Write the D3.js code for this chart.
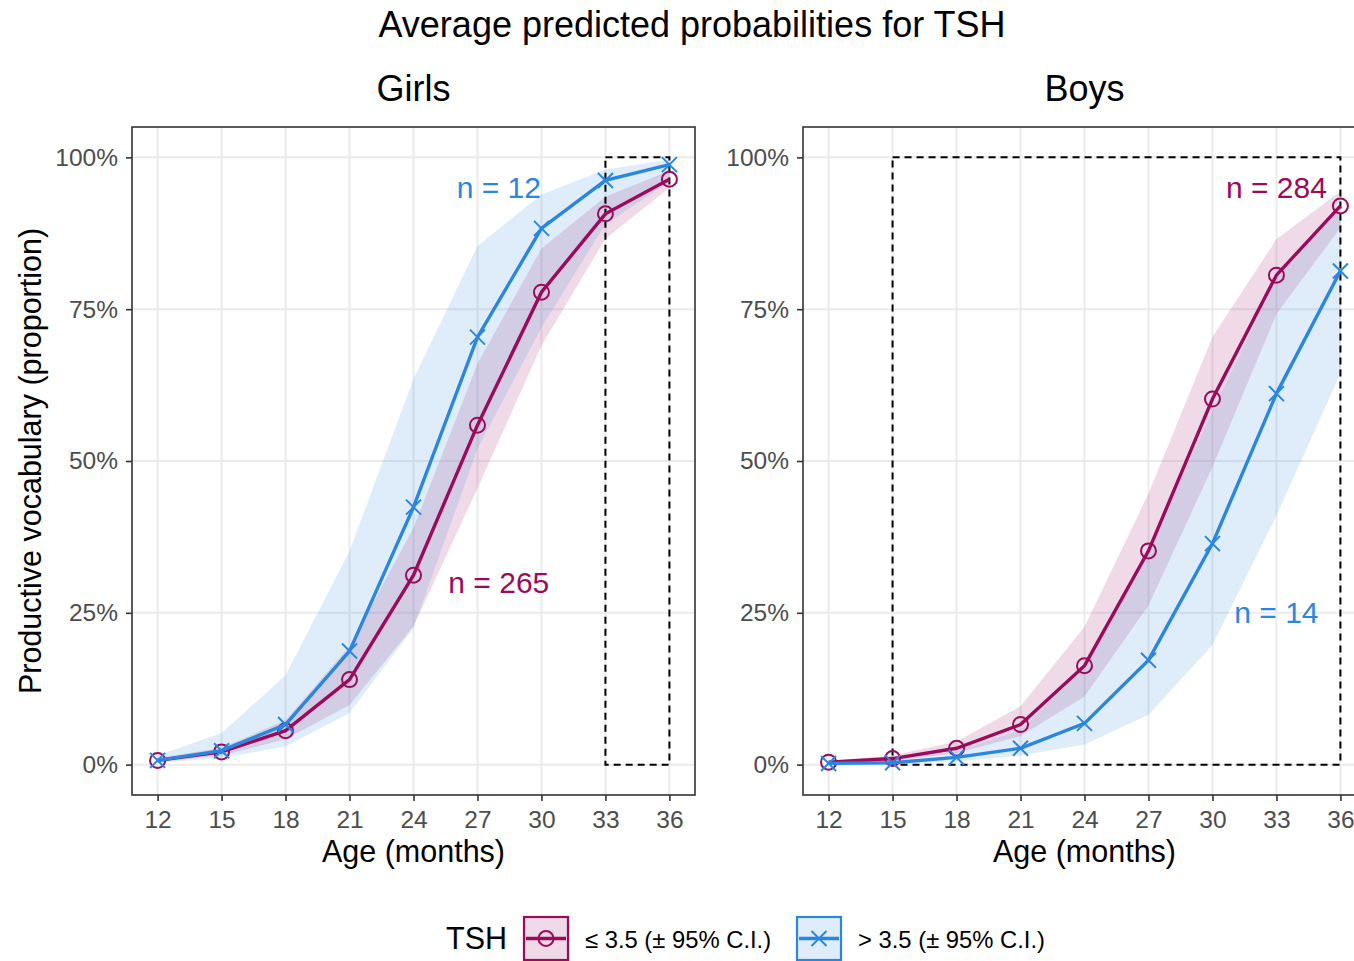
<!DOCTYPE html>
<html>
<head>
<meta charset="utf-8">
<script src="https://cdn.jsdelivr.net/npm/d3@7"></script>
<style>
  body { margin: 0; background: #fff; }
  text { font-family: "Liberation Sans", Arial, sans-serif; }
</style>
</head>
<body>
<svg id="chart" width="1354" height="961"></svg>
<script>
// Données
const ages = [12, 15, 18, 21, 24, 27, 30, 33, 36];
const yTicks = [0, 0.25, 0.5, 0.75, 1];

const girlsLowFit = [0.007, 0.021, 0.056, 0.140, 0.312, 0.559, 0.778, 0.907, 0.964];
const girlsLowLo  = [0.004, 0.015, 0.042, 0.098, 0.228, 0.455, 0.690, 0.866, 0.950];
const girlsLowHi  = [0.011, 0.028, 0.073, 0.195, 0.390, 0.660, 0.850, 0.935, 0.978];
const girlsHighFit = [0.007, 0.023, 0.066, 0.187, 0.424, 0.704, 0.883, 0.962, 0.988];
const girlsHighLo  = [0.003, 0.011, 0.030, 0.085, 0.225, 0.520, 0.720, 0.890, 0.960];
const girlsHighHi  = [0.015, 0.052, 0.147, 0.352, 0.635, 0.854, 0.939, 0.980, 0.996];

const boysLowFit = [0.004, 0.010, 0.027, 0.066, 0.163, 0.352, 0.602, 0.806, 0.920];
const boysLowLo  = [0.002, 0.006, 0.019, 0.047, 0.112, 0.262, 0.490, 0.742, 0.884];
const boysLowHi  = [0.006, 0.015, 0.038, 0.096, 0.227, 0.446, 0.704, 0.865, 0.944];
const boysHighFit = [0.002, 0.003, 0.012, 0.027, 0.068, 0.172, 0.364, 0.611, 0.813];
const boysHighLo  = [0.001, 0.001, 0.005, 0.015, 0.033, 0.082, 0.197, 0.410, 0.644];
const boysHighHi  = [0.004, 0.008, 0.022, 0.057, 0.160, 0.353, 0.583, 0.800, 0.915];

const pink = "#9c0a5b";
const blue = "#2b86e0";

const panels = [
  { title: "Girls", left: 132,
    series: [
      { fit: girlsLowFit, lo: girlsLowLo, hi: girlsLowHi, color: pink, shape: "circle" },
      { fit: girlsHighFit, lo: girlsHighLo, hi: girlsHighHi, color: blue, shape: "cross" }
    ],
    box: [33, 36],
    labels: [
      { text: "n = 12", x: 28, y: 0.95, color: blue },
      { text: "n = 265", x: 28, y: 0.30, color: pink }
    ] },
  { title: "Boys", left: 803,
    series: [
      { fit: boysLowFit, lo: boysLowLo, hi: boysLowHi, color: pink, shape: "circle" },
      { fit: boysHighFit, lo: boysHighLo, hi: boysHighHi, color: blue, shape: "cross" }
    ],
    box: [15, 36],
    labels: [
      { text: "n = 284", x: 33, y: 0.95, color: pink },
      { text: "n = 14", x: 33, y: 0.25, color: blue }
    ] }
];

const svg = d3.select("#chart");
const panelTop = 127, panelW = 563, panelH = 668;

const x = d3.scaleLinear().domain([10.8, 37.2]).range([0, panelW]);
const y = d3.scaleLinear().domain([-0.05, 1.05]).range([panelH, 0]);

svg.append("text")
  .attr("x", 692).attr("y", 24)
  .attr("text-anchor", "middle").attr("dominant-baseline", "central")
  .style("font-size", "36px")
  .text("Average predicted probabilities for TSH");

function marker(g, shape, color, cx, cy) {
  if (shape === "circle") {
    g.append("circle").attr("cx", cx).attr("cy", cy).attr("r", 7.5)
      .attr("fill", "none").attr("stroke", color).attr("stroke-width", 2);
  } else {
    const s = 7.5;
    g.append("path")
      .attr("d", `M${cx - s},${cy - s}L${cx + s},${cy + s}M${cx - s},${cy + s}L${cx + s},${cy - s}`)
      .attr("stroke", color).attr("stroke-width", 2);
  }
}

panels.forEach(p => {
  svg.append("text")
    .attr("x", p.left + panelW / 2).attr("y", 88)
    .attr("text-anchor", "middle").attr("dominant-baseline", "central")
    .style("font-size", "36px")
    .text(p.title);

  const g = svg.append("g").attr("transform", `translate(${p.left},${panelTop})`);

  // grille
  g.selectAll("line.vgrid").data(ages).enter().append("line")
    .attr("x1", d => x(d)).attr("x2", d => x(d))
    .attr("y1", 0).attr("y2", panelH)
    .attr("stroke", "#ebebeb").attr("stroke-width", 2);
  g.selectAll("line.hgrid").data(yTicks).enter().append("line")
    .attr("x1", 0).attr("x2", panelW)
    .attr("y1", d => y(d)).attr("y2", d => y(d))
    .attr("stroke", "#ebebeb").attr("stroke-width", 2);

  // bandes de confiance
  p.series.forEach(s => {
    const area = d3.area()
      .x((d, i) => x(ages[i]))
      .y0((d, i) => y(s.lo[i]))
      .y1((d, i) => y(s.hi[i]));
    g.append("path").datum(s.fit).attr("d", area)
      .attr("fill", s.color).attr("fill-opacity", 0.15);
  });

  // rectangle pointillé
  g.append("rect")
    .attr("x", x(p.box[0])).attr("y", y(1))
    .attr("width", x(p.box[1]) - x(p.box[0])).attr("height", y(0) - y(1))
    .attr("fill", "none").attr("stroke", "#000").attr("stroke-width", 2)
    .attr("stroke-dasharray", "7,5");

  // lignes et points
  p.series.forEach(s => {
    const line = d3.line().x((d, i) => x(ages[i])).y(d => y(d));
    g.append("path").datum(s.fit).attr("d", line)
      .attr("fill", "none").attr("stroke", s.color).attr("stroke-width", 3.4);
    s.fit.forEach((v, i) => marker(g, s.shape, s.color, x(ages[i]), y(v)));
  });

  // étiquettes n
  p.labels.forEach(l => {
    g.append("text")
      .attr("x", x(l.x)).attr("y", y(l.y))
      .attr("text-anchor", "middle").attr("dominant-baseline", "central")
      .attr("fill", l.color).style("font-size", "30px")
      .text(l.text);
  });

  // cadre
  g.append("rect").attr("width", panelW).attr("height", panelH)
    .attr("fill", "none").attr("stroke", "#333").attr("stroke-width", 1.6);

  // axes
  const ax = g.append("g").attr("transform", `translate(0,${panelH})`)
    .call(d3.axisBottom(x).tickValues(ages).tickSize(6).tickPadding(10));
  const ay = g.append("g")
    .call(d3.axisLeft(y).tickValues(yTicks).tickFormat(d3.format(".0%")).tickSize(6).tickPadding(8));
  [ax, ay].forEach(a => {
    a.select(".domain").remove();
    a.selectAll(".tick line").attr("stroke", "#333").attr("stroke-width", 1.6);
    a.selectAll(".tick text").attr("fill", "#4d4d4d")
      .style("font-size", "24.5px").style("font-family", "Liberation Sans, Arial, sans-serif");
  });

  svg.append("text")
    .attr("x", p.left + panelW / 2).attr("y", 851)
    .attr("text-anchor", "middle").attr("dominant-baseline", "central")
    .style("font-size", "30.5px")
    .text("Age (months)");
});

svg.append("text")
  .attr("transform", "translate(30,461) rotate(-90)")
  .attr("text-anchor", "middle").attr("dominant-baseline", "central")
  .style("font-size", "30.5px")
  .text("Productive vocabulary (proportion)");

// légende
const legend = svg.append("g");
legend.append("text")
  .attr("x", 446).attr("y", 938).attr("dominant-baseline", "central")
  .style("font-size", "30.5px").text("TSH");
const keys = [
  { x: 524, color: pink, shape: "circle", label: "≤ 3.5 (± 95% C.I.)", lx: 585 },
  { x: 797, color: blue, shape: "cross", label: "> 3.5 (± 95% C.I.)", lx: 858 }
];
keys.forEach(k => {
  legend.append("rect").attr("x", k.x).attr("y", 917).attr("width", 44).attr("height", 43)
    .attr("fill", k.color).attr("fill-opacity", 0.15)
    .attr("stroke", k.color).attr("stroke-width", 2.2);
  legend.append("line").attr("x1", k.x + 2).attr("x2", k.x + 42)
    .attr("y1", 938.5).attr("y2", 938.5).attr("stroke", k.color).attr("stroke-width", 3.4);
  marker(legend, k.shape, k.color, k.x + 22, 938.5);
  legend.append("text").attr("x", k.lx).attr("y", 939).attr("dominant-baseline", "central")
    .style("font-size", "23.8px").text(k.label);
});
</script>
</body>
</html>
